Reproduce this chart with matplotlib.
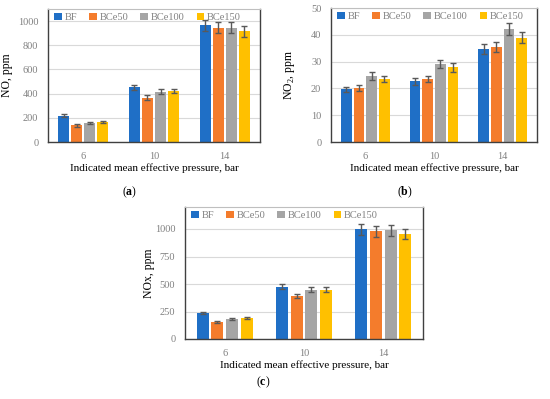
import numpy as np
import matplotlib
matplotlib.use("Agg")
from matplotlib import pyplot as plt

plt.rcParams['font.family'] = ['Liberation Serif', 'DejaVu Serif']
plt.rcParams['mathtext.fontset'] = 'custom'
plt.rcParams['mathtext.rm'] = 'Liberation Serif'
plt.rcParams['mathtext.bf'] = 'Liberation Serif:bold'

loads = ["6", "10", "14"]
fuels = ["BF", "BCe50", "BCe100", "BCe150"]
colors = ["#1F6FC6", "#F47C2C", "#A5A5A5", "#FFC000"]

# NO, ppm  (rows = fuels, cols = loads)
no_vals = [[216, 452, 964],
           [137, 366, 945],
           [159, 416, 946],
           [167, 422, 915]]
no_err = [[12, 22, 48],
          [9, 20, 45],
          [9, 20, 45],
          [9, 20, 45]]

# NO2, ppm
no2_vals = [[19.6, 22.6, 34.7],
            [20.0, 23.5, 35.5],
            [24.6, 29.0, 42.2],
            [23.6, 27.8, 38.9]]
no2_err = [[1.1, 1.2, 1.8],
           [1.1, 1.2, 1.8],
           [1.4, 1.5, 2.2],
           [1.2, 1.5, 2.0]]

# NOx, ppm
nox_vals = [[235, 477, 1000],
            [153, 390, 979],
            [180, 447, 988],
            [188, 450, 955]]
nox_err = [[12, 25, 50],
           [8, 20, 48],
           [10, 22, 48],
           [10, 22, 48]]

W, H = 550, 399
fig = plt.figure(figsize=(5.5, 3.99), dpi=100)


def px_axes(x0, x1, y0, y1):
    return fig.add_axes([x0 / W, 1 - y1 / H, (x1 - x0) / W, (y1 - y0) / H])


def draw(ax, vals, errs, ylim, yticks, ylabel, ylab_px):
    x = np.arange(len(loads))
    step = 0.185
    for i, f in enumerate(fuels):
        ax.bar(x + (i - 1.5) * step, vals[i], width=0.155, color=colors[i],
               label=f, zorder=2)
        ax.errorbar(x + (i - 1.5) * step, vals[i], yerr=errs[i], fmt='none',
                    ecolor='#595959', elinewidth=1, capsize=2.5, capthick=1,
                    zorder=3)
    ax.set_xlim(-0.5, 2.5)
    ax.set_ylim(*ylim)
    ax.set_xticks(x)
    ax.set_xticklabels(loads)
    ax.set_yticks(yticks)
    ax.grid(axis='y', color='#D9D9D9', linewidth=0.8, zorder=0)
    ax.tick_params(length=0, labelsize=7.5, labelcolor='#808080', pad=7)
    for s in ['left', 'right', 'bottom']:
        ax.spines[s].set_color('#404040')
        ax.spines[s].set_linewidth(1.0)
    ax.spines['top'].set_color('#BFBFBF')
    ax.spines['top'].set_linewidth(0.8)
    ax.set_ylabel(ylabel, fontsize=8.5)
    # put the y label's right edge a given number of pixels left of the axes
    w_px = ax.get_position().width * W
    ax.yaxis.set_label_coords(-ylab_px / w_px, 0.5)
    ax.set_xlabel("Indicated mean effective pressure, bar", fontsize=8)
    ax.xaxis.labelpad = 2
    ax.legend(loc='upper left', bbox_to_anchor=(0.0, 1.02), ncol=4,
              frameon=False, fontsize=7.5, handlelength=0.7,
              handleheight=0.7, handletextpad=0.3, columnspacing=1.15,
              labelcolor='#808080', borderaxespad=0.2)


ax1 = px_axes(48, 260, 9, 142)
draw(ax1, no_vals, no_err, (0, 1100), range(0, 1001, 200), "NO, ppm", 35)
ax2 = px_axes(331, 537, 8, 142)
draw(ax2, no2_vals, no2_err, (0, 50), range(0, 51, 10),
     r"NO$_\mathrm{2}$, ppm", 34)
ax3 = px_axes(185, 423, 207, 339)
draw(ax3, nox_vals, nox_err, (0, 1200), range(0, 1001, 250), "NOx, ppm", 30)

fig.text(130 / W, 1 - 192 / H, r"($\mathbf{a}$)", ha='center', va='center', fontsize=8.5)
fig.text(405 / W, 1 - 192 / H, r"($\mathbf{b}$)", ha='center', va='center', fontsize=8.5)
fig.text(263 / W, 1 - 382 / H, r"($\mathbf{c}$)", ha='center', va='center', fontsize=8.5)

plt.savefig("out.png", dpi=100)
plt.close()
